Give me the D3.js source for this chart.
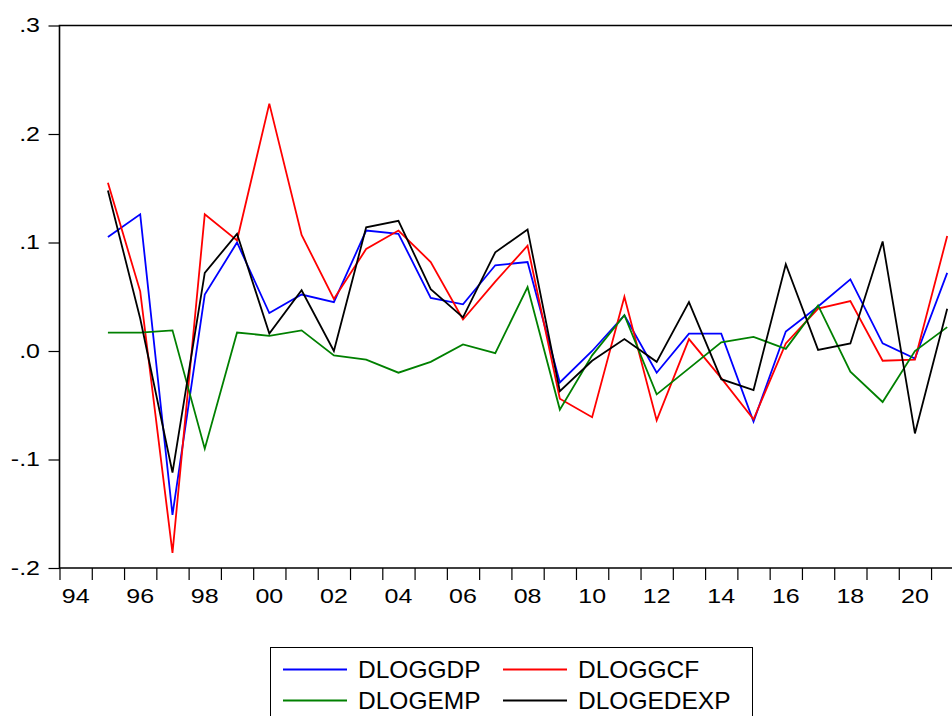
<!DOCTYPE html>
<html>
<head>
<meta charset="utf-8">
<script src="https://cdn.jsdelivr.net/npm/d3@7/dist/d3.min.js"></script>
<style>
  html, body { margin: 0; padding: 0; background: #fff; }
  svg { display: block; font-family: Arial, "Liberation Sans", sans-serif; }
</style>
</head>
<body>
<div id="chart"></div>
<script>
// ////////////////////////////////////////////////////////////////////////////
// DATA (annual log differences, 1995-2021)
// ////////////////////////////////////////////////////////////////////////////
const years = d3.range(1995, 2022);
const dloggdp = [0.105, 0.126, -0.151, 0.052, 0.100, 0.035, 0.052, 0.045, 0.111, 0.108,
  0.049, 0.043, 0.079, 0.082, -0.029, 0.000, 0.033, -0.020, 0.016, 0.016,
  -0.065, 0.018, 0.041, 0.066, 0.007, -0.007, 0.072];
const dloggcf = [0.155, 0.055, -0.186, 0.126, 0.102, 0.228, 0.107, 0.048, 0.094, 0.111,
  0.082, 0.029, 0.064, 0.097, -0.044, -0.061, 0.050, -0.064, 0.011, -0.025,
  -0.063, 0.007, 0.039, 0.046, -0.009, -0.008, 0.106];
const dlogemp = [0.017, 0.017, 0.019, -0.090, 0.017, 0.014, 0.019, -0.004, -0.008, -0.020,
  -0.010, 0.006, -0.002, 0.059, -0.054, -0.004, 0.033, -0.040, -0.016, 0.008,
  0.013, 0.002, 0.042, -0.019, -0.047, 0.000, 0.022];
const dlogedexp = [0.148, 0.030, -0.112, 0.072, 0.108, 0.016, 0.056, 0.000, 0.114, 0.120,
  0.057, 0.031, 0.091, 0.112, -0.037, -0.009, 0.011, -0.010, 0.045, -0.026,
  -0.036, 0.080, 0.001, 0.007, 0.101, -0.076, 0.039];

const seriesNames = ['DLOGGDP', 'DLOGGCF', 'DLOGEMP', 'DLOGEDEXP'];
const seriesColors = ['#0000ff', '#ff0000', '#008000', '#000000'];
const seriesValues = [dloggdp, dloggcf, dlogemp, dlogedexp];

const yTicks = [0.3, 0.2, 0.1, 0, -0.1, -0.2];
const yearLabels = d3.range(1994, 2021, 2);

// ////////////////////////////////////////////////////////////////////////////
// SET UP
// ////////////////////////////////////////////////////////////////////////////
const width = 952;
const height = 716;
const plotLeft = 59.5;
const plotTop = 25.5;
const plotBottom = 568;

const svg = d3.select('#chart').append('svg')
  .attr('width', width)
  .attr('height', height);

// each year is a band, points sit in the middle of it
const x = d3.scaleLinear().domain([1994, 2022]).range([plotLeft, plotLeft + 28 * 32.28]);
const y = d3.scaleLinear().domain([-0.2, 0.3]).range([plotBottom, plotTop]);

const tickFmt = (d) => {
  if (d === 0) return '.0';
  return (d < 0 ? '-' : '') + d3.format('.1f')(Math.abs(d)).replace(/^0/, '');
};

// y axis ticks + labels
const yAxis = svg.append('g')
  .attr('transform', `translate(${plotLeft},0)`)
  .call(d3.axisLeft(y).tickValues(yTicks).tickSize(11).tickFormat(''));
yAxis.select('.domain').remove();
yAxis.selectAll('line').attr('stroke', '#000').attr('stroke-width', 1.2);

svg.append('g').selectAll('text')
  .data(yTicks)
  .enter()
  .append('text')
    .attr('transform', d => `translate(40,${y(d)}) scale(1.25,1)`)
    .attr('dy', '0.33em')
    .attr('text-anchor', 'end')
    .attr('font-size', 20)
    .text(tickFmt);

// x axis ticks at year boundaries
const xAxis = svg.append('g')
  .attr('transform', `translate(0,${plotBottom})`)
  .call(d3.axisBottom(x).tickValues(d3.range(1994, 2023)).tickSize(12).tickFormat(''));
xAxis.select('.domain').remove();
xAxis.selectAll('line').attr('stroke', '#000').attr('stroke-width', 1.2);

svg.append('g').selectAll('text')
  .data(yearLabels)
  .enter()
  .append('text')
    .attr('transform', d => `translate(${x(d + 0.5)},603) scale(1.25,1)`)
    .attr('text-anchor', 'middle')
    .attr('font-size', 20)
    .text(d => d3.format('02d')(d % 100));

// frame (right side runs off the picture)
svg.append('path')
  .attr('d', `M${x(2022)},${plotTop}H${plotLeft}V${plotBottom}H${x(2022)}`)
  .attr('fill', 'none')
  .attr('stroke', '#000')
  .attr('stroke-width', 1.6);

// ////////////////////////////////////////////////////////////////////////////
// LINES
// ////////////////////////////////////////////////////////////////////////////
const line = d3.line()
  .x((d, i) => x(years[i] + 0.5))
  .y(d => y(d));

svg.append('g').selectAll('path')
  .data(seriesValues)
  .enter()
  .append('path')
    .attr('d', line)
    .attr('fill', 'none')
    .attr('stroke', (d, i) => seriesColors[i])
    .attr('stroke-width', 1.8)
    .attr('stroke-linejoin', 'miter');

// ////////////////////////////////////////////////////////////////////////////
// LEGEND
// ////////////////////////////////////////////////////////////////////////////
const legend = svg.append('g');
legend.append('rect')
  .attr('x', 270.5)
  .attr('y', 647.5)
  .attr('width', 482)
  .attr('height', 90)
  .attr('fill', '#fff')
  .attr('stroke', '#000')
  .attr('stroke-width', 1);

const entry = legend.selectAll('g.entry')
  .data(seriesNames)
  .enter()
  .append('g')
    .attr('class', 'entry')
    .attr('transform', (d, i) => `translate(${i % 2 ? 503 : 283},${i < 2 ? 669.5 : 700.5})`);

entry.append('line')
  .attr('x1', 0)
  .attr('x2', 64)
  .attr('stroke', (d, i) => seriesColors[i])
  .attr('stroke-width', 1.8);

entry.append('text')
  .attr('x', 75)
  .attr('y', 8)
  .attr('font-size', 24.5)
  .text(d => d);
</script>
</body>
</html>
